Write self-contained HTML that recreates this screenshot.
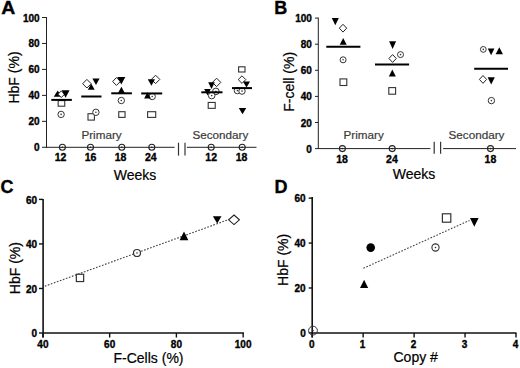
<!DOCTYPE html>
<html><head><meta charset="utf-8"><style>
html,body{margin:0;padding:0;background:#fff;}
svg{display:block;font-family:"Liberation Sans", sans-serif;}
</style></head><body>
<svg width="520" height="368" viewBox="0 0 520 368">
<rect width="520" height="368" fill="#fff"/>
<text transform="translate(1.2,14) scale(1.08,1)" font-size="18" font-weight="bold" fill="#000" stroke="#000" stroke-width="0.35">A</text>
<line x1="46.5" y1="17.0" x2="46.5" y2="147.8" stroke="#222" stroke-width="1" />
<line x1="42" y1="147.3" x2="46.5" y2="147.3" stroke="#222" stroke-width="1" />
<text x="39.6" y="151.3" font-size="10" font-weight="bold" text-anchor="end" fill="#000"  stroke="#000" stroke-width="0.35">0</text>
<line x1="42" y1="121.34" x2="46.5" y2="121.34" stroke="#222" stroke-width="1" />
<text x="39.6" y="125.34" font-size="10" font-weight="bold" text-anchor="end" fill="#000"  stroke="#000" stroke-width="0.35">20</text>
<line x1="42" y1="95.38" x2="46.5" y2="95.38" stroke="#222" stroke-width="1" />
<text x="39.6" y="99.38" font-size="10" font-weight="bold" text-anchor="end" fill="#000"  stroke="#000" stroke-width="0.35">40</text>
<line x1="42" y1="69.42" x2="46.5" y2="69.42" stroke="#222" stroke-width="1" />
<text x="39.6" y="73.42" font-size="10" font-weight="bold" text-anchor="end" fill="#000"  stroke="#000" stroke-width="0.35">60</text>
<line x1="42" y1="43.46" x2="46.5" y2="43.46" stroke="#222" stroke-width="1" />
<text x="39.6" y="47.46" font-size="10" font-weight="bold" text-anchor="end" fill="#000"  stroke="#000" stroke-width="0.35">80</text>
<line x1="42" y1="17.5" x2="46.5" y2="17.5" stroke="#222" stroke-width="1" />
<text x="39.6" y="21.5" font-size="10" font-weight="bold" text-anchor="end" fill="#000"  stroke="#000" stroke-width="0.35">100</text>
<text transform="translate(19.3,77.5) rotate(-90)" x="0" y="0" font-size="14" text-anchor="middle" fill="#000" stroke="#000" stroke-width="0.2">HbF (%)</text>
<line x1="46.5" y1="147.3" x2="174.6" y2="147.3" stroke="#222" stroke-width="1" />
<line x1="186.9" y1="147.3" x2="256.5" y2="147.3" stroke="#222" stroke-width="1" />
<line x1="178.5" y1="142.7" x2="178.5" y2="155.6" stroke="#333" stroke-width="1.2" />
<line x1="185" y1="142.7" x2="185" y2="155.6" stroke="#333" stroke-width="1.2" />
<circle cx="62.4" cy="147.3" r="3.0" fill="none" stroke="#222" stroke-width="1.1"/>
<circle cx="62.4" cy="147.3" r="0.8" fill="#222"/>
<text x="60.6" y="160.7" font-size="10.5" font-weight="bold" text-anchor="middle" fill="#000"  stroke="#000" stroke-width="0.35">12</text>
<circle cx="90.5" cy="147.3" r="3.0" fill="none" stroke="#222" stroke-width="1.1"/>
<circle cx="90.5" cy="147.3" r="0.8" fill="#222"/>
<text x="90.6" y="160.7" font-size="10.5" font-weight="bold" text-anchor="middle" fill="#000"  stroke="#000" stroke-width="0.35">16</text>
<circle cx="121.8" cy="147.3" r="3.0" fill="none" stroke="#222" stroke-width="1.1"/>
<circle cx="121.8" cy="147.3" r="0.8" fill="#222"/>
<text x="120.6" y="160.7" font-size="10.5" font-weight="bold" text-anchor="middle" fill="#000"  stroke="#000" stroke-width="0.35">18</text>
<circle cx="151.8" cy="147.3" r="3.0" fill="none" stroke="#222" stroke-width="1.1"/>
<circle cx="151.8" cy="147.3" r="0.8" fill="#222"/>
<text x="150.8" y="160.7" font-size="10.5" font-weight="bold" text-anchor="middle" fill="#000"  stroke="#000" stroke-width="0.35">24</text>
<circle cx="211.2" cy="147.3" r="3.0" fill="none" stroke="#222" stroke-width="1.1"/>
<circle cx="211.2" cy="147.3" r="0.8" fill="#222"/>
<text x="211.2" y="160.7" font-size="10.5" font-weight="bold" text-anchor="middle" fill="#000"  stroke="#000" stroke-width="0.35">12</text>
<circle cx="242.2" cy="147.3" r="3.0" fill="none" stroke="#222" stroke-width="1.1"/>
<circle cx="242.2" cy="147.3" r="0.8" fill="#222"/>
<text x="241.6" y="160.7" font-size="10.5" font-weight="bold" text-anchor="middle" fill="#000"  stroke="#000" stroke-width="0.35">18</text>
<text x="81.4" y="138.5" font-size="11.7" font-weight="normal" text-anchor="start" fill="#3a3a3a"  stroke="#3a3a3a" stroke-width="0.2">Primary</text>
<text x="192.4" y="138.7" font-size="11.7" font-weight="normal" text-anchor="start" fill="#3a3a3a"  stroke="#3a3a3a" stroke-width="0.2">Secondary</text>
<text x="113.8" y="180" font-size="14" font-weight="normal" text-anchor="start" fill="#000"  stroke="#000" stroke-width="0.2">Weeks</text>
<rect x="58.15" y="100.60" width="6.6" height="5.6" fill="#fff" stroke="#333" stroke-width="1.1"/>
<circle cx="61.1" cy="114.4" r="3.2" fill="#fff" stroke="#333" stroke-width="1"/>
<circle cx="61.1" cy="114.4" r="0.8" fill="#333"/>
<polygon points="53.7,96.85 61.7,96.85 57.7,90.55" fill="#000"/>
<polygon points="61.3,90.9 64.6,94.2 61.3,97.5 58.0,94.2" fill="#fff" stroke="#222" stroke-width="1"/>
<polygon points="61.65,90.15 69.55,90.15 65.6,97.65" fill="#000"/>
<line x1="51.3" y1="99.9" x2="71.85" y2="99.9" stroke="#000" stroke-width="2" />
<rect x="88.00" y="113.70" width="6.4" height="6.4" fill="#fff" stroke="#333" stroke-width="1.1"/>
<circle cx="95.9" cy="112.3" r="3.2" fill="#fff" stroke="#333" stroke-width="1"/>
<circle cx="95.9" cy="112.3" r="0.8" fill="#333"/>
<polygon points="86.9,79.4 91.2,83.7 86.9,88.0 82.6,83.7" fill="#fff" stroke="#222" stroke-width="1"/>
<polygon points="87.8,89.7 94.7,89.7 91.25,83.7" fill="#000"/>
<polygon points="92.4,78.6 99.6,78.6 96,85.1" fill="#000"/>
<line x1="81.25" y1="96.5" x2="101.5" y2="96.5" stroke="#000" stroke-width="2" />
<polygon points="116.5,77.6 120.4,81.5 116.5,85.4 112.6,81.5" fill="#fff" stroke="#222" stroke-width="1"/>
<polygon points="117.3,77.1 125.3,77.1 121.3,84.5" fill="#000"/>
<polygon points="117.9,93.3 124.9,93.3 121.4,86.7" fill="#000"/>
<circle cx="121.3" cy="100.5" r="3.2" fill="#fff" stroke="#333" stroke-width="1"/>
<circle cx="121.3" cy="100.5" r="0.8" fill="#333"/>
<rect x="118.75" y="111.70" width="6.3" height="5.7" fill="#fff" stroke="#333" stroke-width="1.1"/>
<line x1="111.25" y1="93.3" x2="131.9" y2="93.3" stroke="#000" stroke-width="2" />
<polygon points="155.6,75.2 159.8,79.4 155.6,83.6 151.4,79.4" fill="#fff" stroke="#222" stroke-width="1"/>
<polygon points="147.8,79.25 155.0,79.25 151.4,85.75" fill="#000"/>
<circle cx="152.2" cy="96.5" r="3.2" fill="#fff" stroke="#333" stroke-width="1"/>
<circle cx="152.2" cy="96.5" r="0.8" fill="#333"/>
<polygon points="144.1,98.5 150.9,98.5 147.5,92.3" fill="#000"/>
<rect x="147.60" y="111.70" width="8.1" height="5.7" fill="#fff" stroke="#333" stroke-width="1.1"/>
<line x1="141.2" y1="93.45" x2="162.2" y2="93.45" stroke="#000" stroke-width="2" />
<polygon points="216.6,78.2 220.8,82.4 216.6,86.6 212.4,82.4" fill="#fff" stroke="#222" stroke-width="1"/>
<polygon points="208.2,82.3 214.8,82.3 211.5,88.9" fill="#000"/>
<circle cx="215.9" cy="91.4" r="3.3" fill="#fff" stroke="#333" stroke-width="1"/>
<circle cx="215.9" cy="91.4" r="0.8" fill="#333"/>
<polygon points="204.2,89.0 210.8,89.0 207.5,95.4" fill="#000"/>
<circle cx="211.7" cy="95.6" r="3.3" fill="#fff" stroke="#333" stroke-width="1"/>
<circle cx="211.7" cy="95.6" r="0.8" fill="#333"/>
<rect x="208.20" y="102.45" width="7" height="5.9" fill="#fff" stroke="#333" stroke-width="1.1"/>
<line x1="201.3" y1="92.3" x2="222.5" y2="92.3" stroke="#000" stroke-width="2" />
<rect x="238.60" y="66.80" width="6.4" height="5.2" fill="#fff" stroke="#333" stroke-width="1.1"/>
<polygon points="242,75.8 245.8,79.6 242,83.4 238.2,79.6" fill="#fff" stroke="#222" stroke-width="1"/>
<polygon points="243.0,81.6 250.0,81.6 246.5,87.4" fill="#000"/>
<circle cx="237.4" cy="90.6" r="3.2" fill="#fff" stroke="#333" stroke-width="1"/>
<circle cx="237.4" cy="90.6" r="0.8" fill="#333"/>
<circle cx="242" cy="91.1" r="3.2" fill="#fff" stroke="#333" stroke-width="1"/>
<circle cx="242" cy="91.1" r="0.8" fill="#333"/>
<polygon points="238.75,108.1 246.25,108.1 242.5,114.3" fill="#000"/>
<line x1="232" y1="88.1" x2="252" y2="88.1" stroke="#000" stroke-width="2" />
<text x="274.2" y="14" font-size="18" font-weight="bold" text-anchor="start" fill="#000"  stroke="#000" stroke-width="0.35">B</text>
<line x1="318.3" y1="17.6" x2="318.3" y2="149" stroke="#222" stroke-width="1" />
<line x1="315" y1="148.6" x2="318.3" y2="148.6" stroke="#222" stroke-width="1" />
<text x="311.9" y="152.6" font-size="10" font-weight="bold" text-anchor="end" fill="#000"  stroke="#000" stroke-width="0.35">0</text>
<line x1="315" y1="122.5" x2="318.3" y2="122.5" stroke="#222" stroke-width="1" />
<text x="311.9" y="126.5" font-size="10" font-weight="bold" text-anchor="end" fill="#000"  stroke="#000" stroke-width="0.35">20</text>
<line x1="315" y1="96.4" x2="318.3" y2="96.4" stroke="#222" stroke-width="1" />
<text x="311.9" y="100.4" font-size="10" font-weight="bold" text-anchor="end" fill="#000"  stroke="#000" stroke-width="0.35">40</text>
<line x1="315" y1="70.3" x2="318.3" y2="70.3" stroke="#222" stroke-width="1" />
<text x="311.9" y="74.3" font-size="10" font-weight="bold" text-anchor="end" fill="#000"  stroke="#000" stroke-width="0.35">60</text>
<line x1="315" y1="44.2" x2="318.3" y2="44.2" stroke="#222" stroke-width="1" />
<text x="311.9" y="48.2" font-size="10" font-weight="bold" text-anchor="end" fill="#000"  stroke="#000" stroke-width="0.35">80</text>
<line x1="315" y1="18.1" x2="318.3" y2="18.1" stroke="#222" stroke-width="1" />
<text x="311.9" y="22.1" font-size="10" font-weight="bold" text-anchor="end" fill="#000"  stroke="#000" stroke-width="0.35">100</text>
<text transform="translate(293.9,81.85) rotate(-90)" x="0" y="0" font-size="14" text-anchor="middle" fill="#000" stroke="#000" stroke-width="0.2">F-cell (%)</text>
<line x1="318.3" y1="148.6" x2="430.4" y2="148.6" stroke="#222" stroke-width="1" />
<line x1="443.1" y1="148.6" x2="516" y2="148.6" stroke="#222" stroke-width="1" />
<line x1="434.2" y1="141.8" x2="434.2" y2="153.8" stroke="#333" stroke-width="1.2" />
<line x1="440.6" y1="141.8" x2="440.6" y2="153.8" stroke="#333" stroke-width="1.2" />
<circle cx="342.4" cy="148.6" r="3.0" fill="none" stroke="#222" stroke-width="1.1"/>
<circle cx="342.4" cy="148.6" r="0.8" fill="#222"/>
<text x="342.1" y="162.8" font-size="10.5" font-weight="bold" text-anchor="middle" fill="#000"  stroke="#000" stroke-width="0.35">18</text>
<circle cx="392.2" cy="148.6" r="3.0" fill="none" stroke="#222" stroke-width="1.1"/>
<circle cx="392.2" cy="148.6" r="0.8" fill="#222"/>
<text x="391.9" y="162.8" font-size="10.5" font-weight="bold" text-anchor="middle" fill="#000"  stroke="#000" stroke-width="0.35">24</text>
<circle cx="490.5" cy="148.6" r="3.0" fill="none" stroke="#222" stroke-width="1.1"/>
<circle cx="490.5" cy="148.6" r="0.8" fill="#222"/>
<text x="490.4" y="162.8" font-size="10.5" font-weight="bold" text-anchor="middle" fill="#000"  stroke="#000" stroke-width="0.35">18</text>
<text x="343.5" y="138.7" font-size="11.7" font-weight="normal" text-anchor="start" fill="#3a3a3a"  stroke="#3a3a3a" stroke-width="0.2">Primary</text>
<text x="448.5" y="138.7" font-size="11.7" font-weight="normal" text-anchor="start" fill="#3a3a3a"  stroke="#3a3a3a" stroke-width="0.2">Secondary</text>
<text x="392.8" y="179.3" font-size="14" font-weight="normal" text-anchor="start" fill="#000"  stroke="#000" stroke-width="0.2">Weeks</text>
<polygon points="331.8,17.9 338.8,17.9 335.3,25.3" fill="#000"/>
<polygon points="343,24.3 346.7,28.2 343,32.1 339.3,28.2" fill="#fff" stroke="#222" stroke-width="1"/>
<polygon points="339.7,44.85 346.7,44.85 343.2,37.95" fill="#000"/>
<circle cx="343.1" cy="59.8" r="3.0" fill="#fff" stroke="#333" stroke-width="1"/>
<circle cx="343.1" cy="59.8" r="0.8" fill="#333"/>
<rect x="340.00" y="78.90" width="6.8" height="6.6" fill="#fff" stroke="#333" stroke-width="1.1"/>
<line x1="326.3" y1="46.7" x2="360.4" y2="46.7" stroke="#000" stroke-width="2" />
<polygon points="389.1,41.3 396.1,41.3 392.6,48.9" fill="#000"/>
<polygon points="392.6,54.6 396.3,58.5 392.6,62.4 388.9,58.5" fill="#fff" stroke="#222" stroke-width="1"/>
<circle cx="400.5" cy="54.6" r="3.0" fill="#fff" stroke="#333" stroke-width="1"/>
<circle cx="400.5" cy="54.6" r="0.8" fill="#333"/>
<polygon points="388.8,76.5 395.8,76.5 392.3,69.5" fill="#000"/>
<rect x="388.80" y="87.60" width="6.8" height="6.6" fill="#fff" stroke="#333" stroke-width="1.1"/>
<line x1="375" y1="64.5" x2="409.1" y2="64.5" stroke="#000" stroke-width="2" />
<circle cx="483.3" cy="49.4" r="2.9" fill="#fff" stroke="#333" stroke-width="1"/>
<circle cx="483.3" cy="49.4" r="0.8" fill="#333"/>
<polygon points="487.8,48.45 494.4,48.45 491.1,55.35" fill="#000"/>
<polygon points="495.65,54.3 502.95,54.3 499.3,47.3" fill="#000"/>
<polygon points="483,75.5 486.6,79.4 483,83.3 479.4,79.4" fill="#fff" stroke="#222" stroke-width="1"/>
<polygon points="487.6,77.15 494.8,77.15 491.2,84.45" fill="#000"/>
<circle cx="491.4" cy="100.6" r="3.2" fill="#fff" stroke="#333" stroke-width="1"/>
<circle cx="491.4" cy="100.6" r="0.8" fill="#333"/>
<line x1="474.2" y1="68.7" x2="508" y2="68.7" stroke="#000" stroke-width="2" />
<text x="0.5" y="193" font-size="18" font-weight="bold" text-anchor="start" fill="#000"  stroke="#000" stroke-width="0.35">C</text>
<line x1="43.1" y1="199" x2="43.1" y2="337.5" stroke="#111" stroke-width="1.6" />
<line x1="39" y1="333.0" x2="43.1" y2="333.0" stroke="#111" stroke-width="1.4" />
<text x="37.1" y="337.1" font-size="10" font-weight="bold" text-anchor="end" fill="#000"  stroke="#000" stroke-width="0.35">0</text>
<line x1="39" y1="288.47" x2="43.1" y2="288.47" stroke="#111" stroke-width="1.4" />
<text x="37.1" y="292.57" font-size="10" font-weight="bold" text-anchor="end" fill="#000"  stroke="#000" stroke-width="0.35">20</text>
<line x1="39" y1="243.93" x2="43.1" y2="243.93" stroke="#111" stroke-width="1.4" />
<text x="37.1" y="248.03" font-size="10" font-weight="bold" text-anchor="end" fill="#000"  stroke="#000" stroke-width="0.35">40</text>
<line x1="39" y1="199.4" x2="43.1" y2="199.4" stroke="#111" stroke-width="1.4" />
<text x="37.1" y="203.5" font-size="10" font-weight="bold" text-anchor="end" fill="#000"  stroke="#000" stroke-width="0.35">60</text>
<text transform="translate(19.6,268.1) rotate(-90)" x="0" y="0" font-size="14" text-anchor="middle" fill="#000" stroke="#000" stroke-width="0.2">HbF (%)</text>
<line x1="43.1" y1="333" x2="243.9" y2="333" stroke="#111" stroke-width="1.6" />
<line x1="42.9" y1="333" x2="42.9" y2="337.5" stroke="#111" stroke-width="1.4" />
<text x="42.9" y="348" font-size="10" font-weight="bold" text-anchor="middle" fill="#000"  stroke="#000" stroke-width="0.35">40</text>
<line x1="109.65" y1="333" x2="109.65" y2="337.5" stroke="#111" stroke-width="1.4" />
<text x="109.65" y="348" font-size="10" font-weight="bold" text-anchor="middle" fill="#000"  stroke="#000" stroke-width="0.35">60</text>
<line x1="176.4" y1="333" x2="176.4" y2="337.5" stroke="#111" stroke-width="1.4" />
<text x="176.4" y="348" font-size="10" font-weight="bold" text-anchor="middle" fill="#000"  stroke="#000" stroke-width="0.35">80</text>
<line x1="243.15" y1="333" x2="243.15" y2="337.5" stroke="#111" stroke-width="1.4" />
<text x="243.15" y="348" font-size="10" font-weight="bold" text-anchor="middle" fill="#000"  stroke="#000" stroke-width="0.35">100</text>
<text x="113.5" y="362.8" font-size="14" font-weight="normal" text-anchor="start" fill="#000"  stroke="#000" stroke-width="0.2">F-Cells (%)</text>
<line x1="44.8" y1="286.2" x2="228.5" y2="219.6" stroke="#444" stroke-width="1.1" stroke-dasharray="1.7 1.5"/>
<rect x="76.35" y="274.25" width="7.3" height="7.3" fill="#fff" stroke="#333" stroke-width="1.2"/>
<circle cx="137" cy="253" r="3.5" fill="#fff" stroke="#333" stroke-width="1.2"/>
<circle cx="137" cy="253" r="0.8" fill="#333"/>
<polygon points="179.6,240.2 188.4,240.2 184,231.4" fill="#000"/>
<polygon points="212.9,216.2 221.5,216.2 217.2,223.6" fill="#000"/>
<polygon points="234,215.0 239.4,219.8 234,224.6 228.6,219.8" fill="#fff" stroke="#222" stroke-width="1.1"/>
<text x="274.5" y="192.8" font-size="18" font-weight="bold" text-anchor="start" fill="#000"  stroke="#000" stroke-width="0.35">D</text>
<line x1="312.2" y1="197" x2="312.2" y2="337.5" stroke="#111" stroke-width="1.6" />
<line x1="308.7" y1="332.9" x2="312.2" y2="332.9" stroke="#111" stroke-width="1.4" />
<text x="305.7" y="336.6" font-size="10" font-weight="bold" text-anchor="end" fill="#000"  stroke="#000" stroke-width="0.35">0</text>
<line x1="308.7" y1="287.98" x2="312.2" y2="287.98" stroke="#111" stroke-width="1.4" />
<text x="305.7" y="291.68" font-size="10" font-weight="bold" text-anchor="end" fill="#000"  stroke="#000" stroke-width="0.35">20</text>
<line x1="308.7" y1="243.06" x2="312.2" y2="243.06" stroke="#111" stroke-width="1.4" />
<text x="305.7" y="246.76" font-size="10" font-weight="bold" text-anchor="end" fill="#000"  stroke="#000" stroke-width="0.35">40</text>
<line x1="308.7" y1="198.14" x2="312.2" y2="198.14" stroke="#111" stroke-width="1.4" />
<text x="305.7" y="201.84" font-size="10" font-weight="bold" text-anchor="end" fill="#000"  stroke="#000" stroke-width="0.35">60</text>
<text transform="translate(288.3,259.9) rotate(-90)" x="0" y="0" font-size="14" text-anchor="middle" fill="#000" stroke="#000" stroke-width="0.2">HbF (%)</text>
<line x1="312.2" y1="333" x2="516.4" y2="333" stroke="#111" stroke-width="1.6" />
<line x1="312.2" y1="333" x2="312.2" y2="337.5" stroke="#111" stroke-width="1.4" />
<text x="311.7" y="348.3" font-size="10" font-weight="bold" text-anchor="middle" fill="#000"  stroke="#000" stroke-width="0.35">0</text>
<line x1="363.15" y1="333" x2="363.15" y2="337.5" stroke="#111" stroke-width="1.4" />
<text x="362.65" y="348.3" font-size="10" font-weight="bold" text-anchor="middle" fill="#000"  stroke="#000" stroke-width="0.35">1</text>
<line x1="414.1" y1="333" x2="414.1" y2="337.5" stroke="#111" stroke-width="1.4" />
<text x="413.6" y="348.3" font-size="10" font-weight="bold" text-anchor="middle" fill="#000"  stroke="#000" stroke-width="0.35">2</text>
<line x1="465.05" y1="333" x2="465.05" y2="337.5" stroke="#111" stroke-width="1.4" />
<text x="464.55" y="348.3" font-size="10" font-weight="bold" text-anchor="middle" fill="#000"  stroke="#000" stroke-width="0.35">3</text>
<line x1="516.0" y1="333" x2="516.0" y2="337.5" stroke="#111" stroke-width="1.4" />
<text x="515.5" y="348.3" font-size="10" font-weight="bold" text-anchor="middle" fill="#000"  stroke="#000" stroke-width="0.35">4</text>
<text x="393.5" y="362" font-size="14" font-weight="normal" text-anchor="start" fill="#000"  stroke="#000" stroke-width="0.2">Copy #</text>
<circle cx="313" cy="330.6" r="4.4" fill="none" stroke="#333" stroke-width="1"/>
<circle cx="313" cy="330.6" r="0.8" fill="#333"/>
<line x1="363.4" y1="268.3" x2="469.5" y2="220.4" stroke="#444" stroke-width="1.1" stroke-dasharray="1.7 1.5"/>
<circle cx="370.7" cy="247.6" r="4.3" fill="#000"/>
<polygon points="360.0,288.0 368.2,288.0 364.1,279.8" fill="#000"/>
<circle cx="435.5" cy="247.5" r="3.6" fill="#fff" stroke="#333" stroke-width="1.1"/>
<circle cx="435.5" cy="247.5" r="0.8" fill="#333"/>
<rect x="442.40" y="213.80" width="8.4" height="8.4" fill="#fff" stroke="#333" stroke-width="1.2"/>
<polygon points="470.0,218.0 478.6,218.0 474.3,226.8" fill="#000"/>
</svg>
</body></html>
